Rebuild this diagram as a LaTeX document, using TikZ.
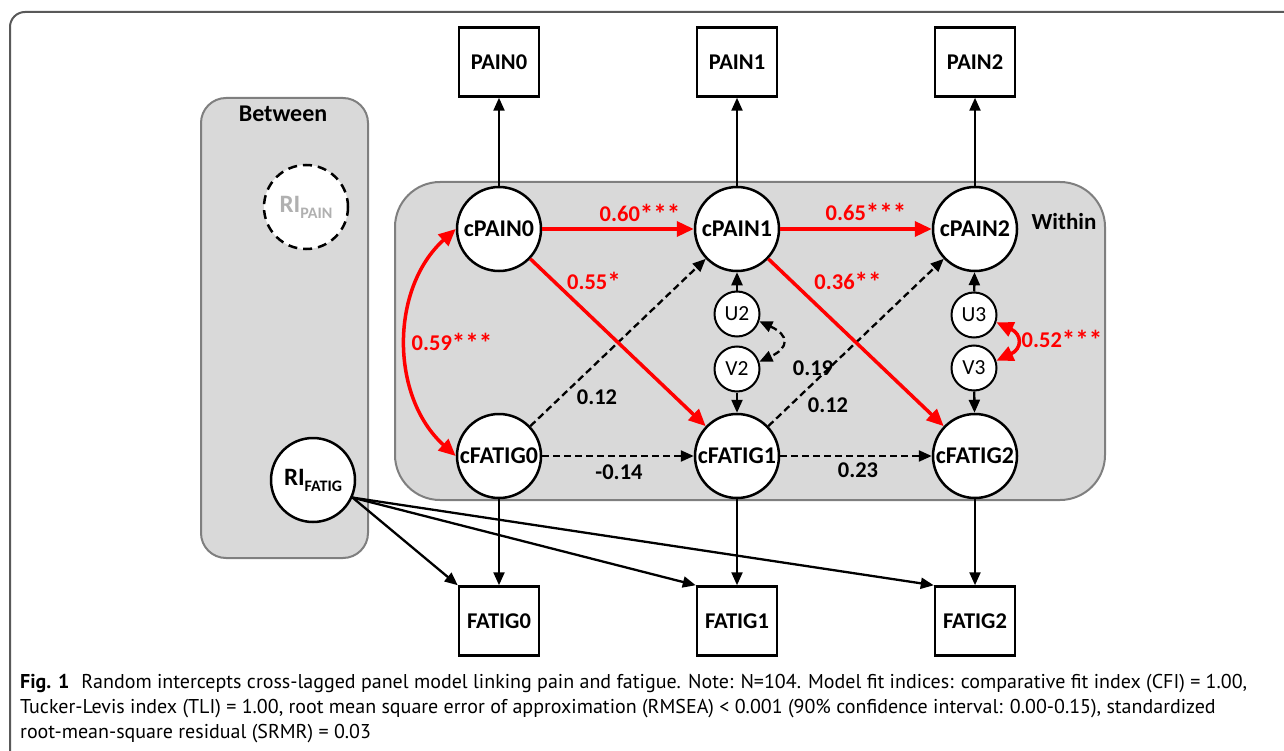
\documentclass[tikz,border=0pt]{standalone}
\usepackage{fontspec}
\setmainfont{Carlito}
\newfontfamily\capfont{PT Sans}
\usetikzlibrary{arrows.meta,positioning}
\definecolor{boxgray}{HTML}{D9D9D9}
\definecolor{edgegray}{HTML}{7F7F7F}
\definecolor{rigray}{HTML}{B0B0B0}
\newcommand{\sig}[1]{\raisebox{-2pt}{\fontsize{27}{27}\selectfont #1}}
\tikzset{
  lat/.style={circle, draw, line width=2.5pt, fill=white, minimum size=84pt, inner sep=0pt,
    font=\bfseries\fontsize{24}{24}\selectfont},
  obs/.style={rectangle, draw, line width=2.5pt, fill=white, minimum width=80pt, minimum height=69pt,
    inner sep=0pt, font=\bfseries\fontsize{22.5}{22.5}\selectfont},
  res/.style={circle, draw, line width=2pt, fill=white, minimum size=45pt, inner sep=0pt,
    font=\fontsize{21.5}{21.5}\selectfont},
  blk/.style={line width=2.3pt, -{Triangle[length=13pt,width=11pt]}},
  dsh/.style={blk, dash pattern=on 7pt off 4pt},
  redarr/.style={red, line width=3.5pt, -{Triangle[length=17pt,width=15pt]}},
  lbl/.style={font=\bfseries\fontsize{22.5}{22.5}\selectfont},
  redlbl/.style={lbl, text=red},
  captxt/.style={anchor=base west, inner sep=0pt, font=\capfont\fontsize{20}{20}\selectfont}
}
\begin{document}
\begin{tikzpicture}[x=1pt, y=-1pt]
\useasboundingbox (0,0) rectangle (1284,751);
% frame
\draw[line width=2pt, black!65, rounded corners=15pt] (10,780) -- (10,12) -- (1320,12);
% between / within panels
\filldraw[fill=boxgray, draw=edgegray, line width=2pt, rounded corners=25pt] (201,98) rectangle (368,558);
\filldraw[fill=boxgray, draw=edgegray, line width=2pt, rounded corners=45pt] (395,182) rectangle (1105,500);
\node[lbl, font=\bfseries\fontsize{24}{24}\selectfont] (btw) at (283,114) {Between};
\node[lbl, font=\bfseries\fontsize{23}{23}\selectfont] (wth) at (1064,222) {Within};

\foreach \i/\x in {0/499,1/737,2/975}
{
\node[lat] (cP\i) at (\x,229) {cPAIN\i};
\node[lat] (cF\i) at (\x,456) {cFATIG\i};
\node[obs] (P\i) at (\x,62) {PAIN\i};
\node[obs] (F\i) at (\x,621) {FATIG\i};
\draw[blk] (cP\i) -- (P\i);
\draw[blk] (cF\i) -- (F\i);
}

% random intercepts
\node[circle, draw, line width=2.5pt, dash pattern=on 9pt off 6pt, fill=white, minimum size=84pt,
  inner sep=0pt, text=rigray, font=\bfseries\fontsize{25}{25}\selectfont] (RIp) at (306,207)
  {RI\raisebox{-6pt}{\fontsize{16}{16}\selectfont PAIN}};
\node[circle, draw, line width=2.5pt, fill=white, minimum size=84pt,
  inner sep=0pt, font=\bfseries\fontsize{25}{25}\selectfont] (RIf) at (313,480)
  {RI\raisebox{-6pt}{\fontsize{16}{16}\selectfont FATIG}};
\foreach \i in {0,1,2}
  \draw[blk] (RIf.-24) -- (F\i.north west);

% residuals
\node[res] (U2) at (737,314) {U2};
\node[res] (V2) at (737,369) {V2};
\node[res] (U3) at (974,315) {U3};
\node[res] (V3) at (974,368) {V3};
\draw[blk] (U2) -- (cP1);
\draw[blk] (V2) -- (cF1);
\draw[blk] (U3) -- (cP2);
\draw[blk] (V3) -- (cF2);
\draw[dsh, {Triangle[length=13pt,width=11pt]}-{Triangle[length=13pt,width=11pt]}]
  (U2.-18) to[out=-25, in=25, looseness=2.1] (V2.18);
\draw[redarr, {Triangle[length=17pt,width=15pt]}-{Triangle[length=17pt,width=15pt]}]
  (U3.-18) to[out=-25, in=25, looseness=1.9] (V3.18);

% cross-lagged paths
\draw[dsh] (cF0) -- (cP1);
\draw[dsh] (cF1) -- (cP2);
\draw[dsh] (cF0) -- (cF1);
\draw[dsh] (cF1) -- (cF2);
\draw[redarr] (cP0) -- (cP1);
\draw[redarr] (cP1) -- (cP2);
\draw[redarr] (cP0) -- (cF1);
\draw[redarr] (cP1) -- (cF2);
\draw[redarr, {Triangle[length=17pt,width=15pt]}-{Triangle[length=17pt,width=15pt]}]
  (cP0.west) to[bend right=48] (cF0.west);

\node[redlbl] (b60) at (640,214) {0.60\sig{***}};
\node[redlbl] (b65) at (866,213) {0.65\sig{***}};
\node[redlbl] (b55) at (594,282) {0.55\sig{*}};
\node[redlbl] (b36) at (848,282) {0.36\sig{**}};
\node[redlbl] (r59) at (452,343) {0.59\sig{***}};
\node[redlbl] (r52) at (1062,340) {0.52\sig{***}};
\node[lbl] (c19) at (813,368) {0.19};
\node[lbl] (g12a) at (597,397) {0.12};
\node[lbl] (g12b) at (828,405) {0.12};
\node[lbl] (g14) at (619,472) {-0.14};
\node[lbl] (g23) at (858,470) {0.23};

% caption
\node[captxt] (cap1) at (20,688) {\textbf{Fig. 1}\hspace{0.6em}Random intercepts cross-lagged panel model linking pain and fatigue. Note: N=104. Model fit indices: comparative fit index (CFI) = 1.00,};
\node[captxt] (cap2) at (20,713) {Tucker-Levis index (TLI) = 1.00, root mean square error of approximation (RMSEA) < 0.001 (90\% confidence interval: 0.00-0.15), standardized};
\node[captxt] (cap3) at (20,738) {root-mean-square residual (SRMR) = 0.03};
\end{tikzpicture}
\end{document}
